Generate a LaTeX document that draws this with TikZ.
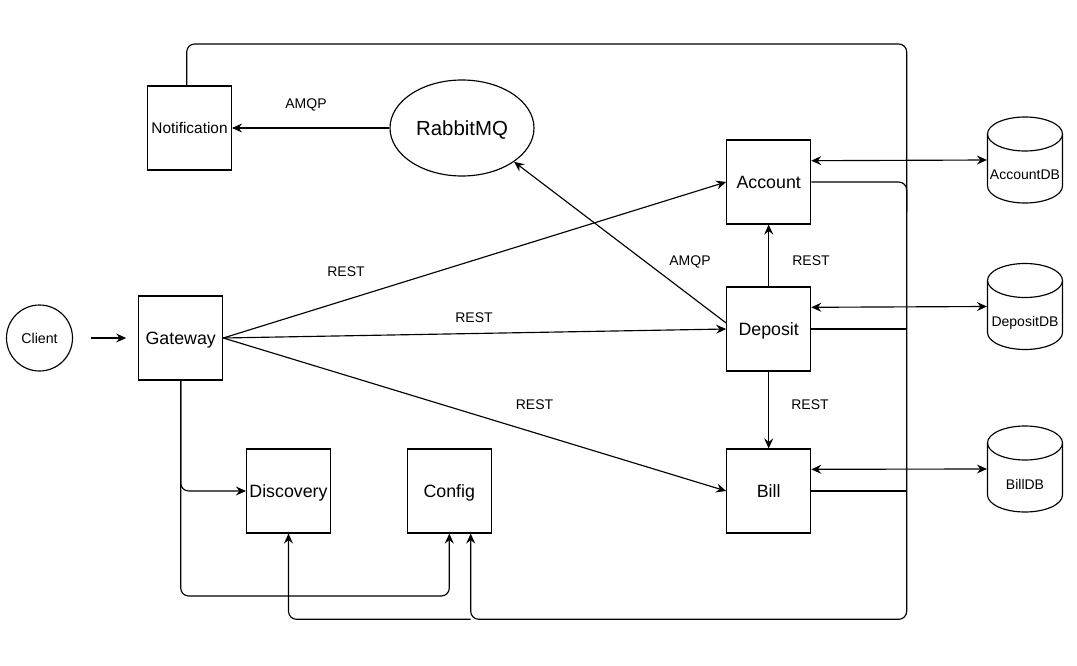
\documentclass[tikz,border=0pt]{standalone}
\usepackage{fontspec}
\setmainfont{Liberation Sans}
\usetikzlibrary{arrows.meta,shapes.geometric,calc}

\newcommand\dbnode[4]{%
  \node[dbbox] (#1) at (#2,#3) {};
  \draw ([yshift=26pt]#1.center) ellipse[x radius=37.5pt, y radius=17pt];
  \draw ([shift={(-37.5pt,26pt)}]#1.center) -- ([shift={(-37.5pt,-26pt)}]#1.center)
        arc[start angle=180,end angle=360,x radius=37.5pt,y radius=17pt]
        -- ([shift={(37.5pt,26pt)}]#1.center);
  \node[lbl] (#1-t) at ([yshift=-15pt]#1.center) {#4};
}

\begin{document}
\begin{tikzpicture}[x=1pt,y=-1pt,line width=1.15pt,
  box/.style={draw, minimum width=84pt, minimum height=84pt, inner sep=0pt, text height=12.75pt, text depth=0pt, font=\fontsize{17.8}{21}\selectfont},
  dbbox/.style={minimum width=75pt, minimum height=86pt, inner sep=0pt},
  lbl/.style={inner sep=0pt, text height=10pt, text depth=0pt, font=\fontsize{14}{16}\selectfont},
  arr/.style={-{Stealth[length=10pt,width=9pt,inset=3.5pt]}},
  darr/.style={{Stealth[length=10pt,width=9pt,inset=3.5pt]}-{Stealth[length=10pt,width=9pt,inset=3.5pt]}},
  wire/.style={rounded corners=8pt}]

\useasboundingbox (0,0) rectangle (1077,666);

% nodes
\node[draw, circle, minimum size=66pt, inner sep=0pt, text height=10.2pt, text depth=0pt, font=\fontsize{14.2}{16}\selectfont] (client) at (39.5,338) {Client};
\node[box] (gateway) at (180.7,338) {Gateway};
\node[box, text height=11pt, font=\fontsize{15.4}{18}\selectfont] (notif) at (189.5,128) {Notification};
\node[draw, ellipse, minimum width=144pt, minimum height=96pt, inner sep=0pt, text height=14.6pt, text depth=0pt, font=\fontsize{20.4}{24}\selectfont] (rabbit) at (462,128) {RabbitMQ};
\node[box] (account) at (768.7,182) {Account};
\node[box] (deposit) at (768.7,329) {Deposit};
\node[box] (bill) at (768.7,491) {Bill};
\node[box] (discovery) at (288.5,491) {Discovery};
\node[box] (config) at (449.3,491) {Config};

\dbnode{adb}{1025}{160}{AccountDB}
\dbnode{ddb}{1025}{306.5}{DepositDB}
\dbnode{bdb}{1025}{469}{BillDB}

% labels
\node[lbl] (l1) at (346,271) {REST};
\node[lbl] (l2) at (474,317) {REST};
\node[lbl] (l3) at (534.5,404) {REST};
\node[lbl] (l4) at (811,260) {REST};
\node[lbl] (l5) at (810,404) {REST};
\node[lbl] (l6) at (690,260) {AMQP};
\node[lbl] (l7) at (306,104) {AMQP};

% coordinates
\coordinate (bustl) at (186.7,44);
\coordinate (bustr) at (906.7,44);
\coordinate (busbr) at (906.7,619.3);
\coordinate (gwrow) at (0,596);
\coordinate (cfgB) at ([xshift=21.4pt]config.south);
\coordinate (accB) at (account.east -| bustr);

% connectors
\draw[arr] ([xshift=18pt]client.east) -- ([xshift=-12pt]gateway.west);
\draw[arr] (gateway.east) -- (account.west);
\draw[arr] (gateway.east) -- (deposit.west);
\draw[arr] (gateway.east) -- (bill.west);
\draw[arr] ([yshift=6pt]deposit.west) -- (rabbit.-33);
\draw[arr] (rabbit.west) -- (notif.east);
\draw[arr] (deposit.north) -- (account.south);
\draw[arr] (deposit.south) -- (bill.north);

\draw[darr] ([yshift=21.3pt]account.east) -- (adb.west);
\draw[darr] ([yshift=21.7pt]deposit.east) -- (ddb.west);
\draw[darr] ([yshift=21.7pt]bill.east) -- (bdb.west);

\draw[wire, arr] ([xshift=-2.8pt]notif.north) -- (bustl) -- (bustr) -- (busbr) -- (cfgB |- busbr) -- (cfgB);
\draw[wire, arr] (cfgB |- busbr) -- (discovery.south |- busbr) -- (discovery.south);
\draw[wire] (account.east) -- (accB) -- ([yshift=-30pt]accB);
\draw (deposit.east) -- (deposit.east -| bustr);
\draw (bill.east) -- (bill.east -| bustr);

\draw[wire, arr] (gateway.south) |- (discovery.west);
\draw[wire, arr] (gateway.south) |- (config.south |- gwrow) -- (config.south);
\end{tikzpicture}
\end{document}
